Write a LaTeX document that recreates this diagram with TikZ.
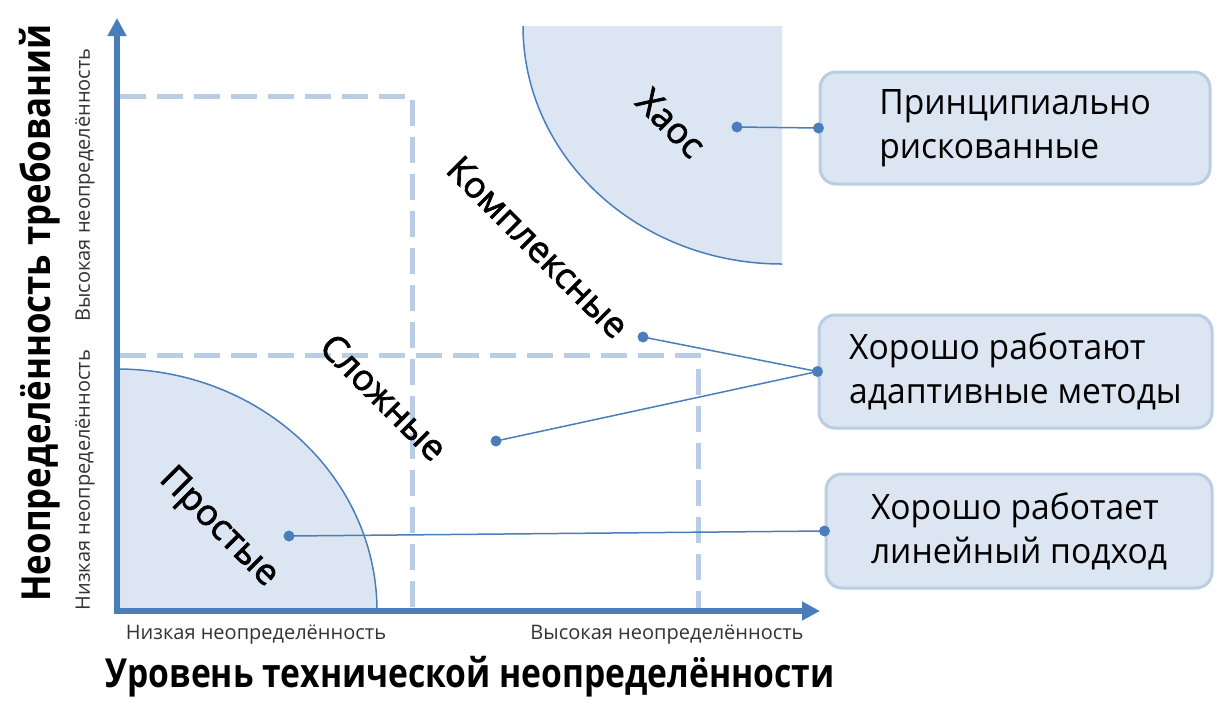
\documentclass[tikz,border=0pt]{standalone}
\usepackage{fontspec}
\setmainfont{Open Sans}
\newcommand{\heavytext}[1]{\special{pdf:literal direct 2 Tr 0.7 w}#1\special{pdf:literal direct 0 Tr}}
\usetikzlibrary{arrows.meta}
\definecolor{axisblue}{HTML}{4A7EBB}
\definecolor{dashblue}{HTML}{B9CDE5}
\definecolor{fillblue}{HTML}{DCE6F2}
\begin{document}
\begin{tikzpicture}[x=1pt,y=-1pt,
 axis/.style={line width=5.5pt, draw=axisblue, {Triangle[width=18pt,length=18pt]}-{Triangle[width=18pt,length=18pt]}},
 guide/.style={line width=5pt, draw=dashblue, dash pattern=on 26pt off 11pt},
 region/.style={fill=fillblue},
 regionedge/.style={draw=axisblue, line width=1.5pt},
 infobox/.style={draw=dashblue, line width=3pt, fill=fillblue, rounded corners=16pt, align=left, font=\fontsize{35}{44}\selectfont, inner sep=0pt},
 dot/.style={circle, fill=axisblue, inner sep=0pt, minimum size=11pt},
 link/.style={draw=axisblue, line width=1.5pt},
 zone/.style={font=\fontsize{36}{40}\selectfont, rotate=-45},
 small/.style={font=\fontsize{20}{24}\selectfont, text=black!80},
 title/.style={font=\bfseries\fontsize{40}{48}\selectfont}
]
\fill[white] (0,0) rectangle (1217,721);
\useasboundingbox (0,0) rectangle (1217,721);

% regions
\fill[region] (117,611) -- (377,611) arc[start angle=0,end angle=-90,x radius=260,y radius=242] -- cycle;
\draw[regionedge] (377,611) arc[start angle=0,end angle=-90,x radius=260,y radius=242];
\fill[region] (782,26) -- (523,26) arc[start angle=180,end angle=90,x radius=259,y radius=238] -- cycle;
\draw[regionedge] (523,26) arc[start angle=180,end angle=90,x radius=259,y radius=238];

% guides
\draw[guide] (120,96) -- (412,96) -- (412,609);
\draw[guide] (120,355) -- (698,355) -- (698,609);

% axes
\coordinate (ytip) at (117,18);
\coordinate (origin) at (117,611);
\coordinate (xtip) at (820,611);
\draw[axis] (ytip) -- (origin) -- (xtip);

% zone labels
\node[zone] (chaos) at (671,123) {\heavytext{Хаос}};
\node[zone] (complex) at (538,247) {\heavytext{Комплексные}};
\node[zone] (complicated) at (384,397) {\heavytext{Сложные}};
\node[zone] (simple) at (218,528) {\heavytext{Простые}};

% boxes
\node[infobox, minimum width=390pt, minimum height=112pt] (box1) at (1015,128) {\scalebox{0.96}[1]{Принципиально}\\\scalebox{0.96}[1]{рискованные}};
\node[infobox, minimum width=393pt, minimum height=113pt] (box2) at (1015.5,371.5) {\scalebox{0.96}[1]{Хорошо работают}\\\scalebox{0.96}[1]{адаптивные методы}};
\node[infobox, minimum width=386pt, minimum height=114pt] (box3) at (1019,531) {\scalebox{0.96}[1]{Хорошо работает}\\\scalebox{0.96}[1]{линейный подход}};

% dots
\node[dot] (chaosdot) at (737,127) {};
\node[dot] (complexdot) at (643,337) {};
\node[dot] (complicateddot) at (496,441) {};
\node[dot] (simpledot) at (289,536) {};
\node[dot] (b1dot) at (box1.west) {};
\node[dot] (b2dot) at (box2.west) {};
\node[dot] (b3dot) at (box3.west) {};

% links
\draw[link] (chaosdot.center) -- (b1dot.center);
\draw[link] (complexdot.center) -- (b2dot.center);
\draw[link] (complicateddot.center) -- (b2dot.center);
\draw[link] (simpledot.center) -- (b3dot.center);

% axis labels
\node[small] (xlow) at (256,635) {Низкая неопределённость};
\node[small] (xhigh) at (667,635) {Высокая неопределённость};
\node[small, rotate=90] (ylow) at (85,480) {Низкая неопределённость};
\node[small, rotate=90] (yhigh) at (85,185) {Высокая неопределённость};
\node[title] (xtitle) at (470,677) {\scalebox{0.84}[1]{Уровень технической неопределённости}};
\node[title, rotate=90] (ytitle) at (40,313) {\scalebox{0.87}[1]{Неопределённость требований}};
\end{tikzpicture}
\end{document}
